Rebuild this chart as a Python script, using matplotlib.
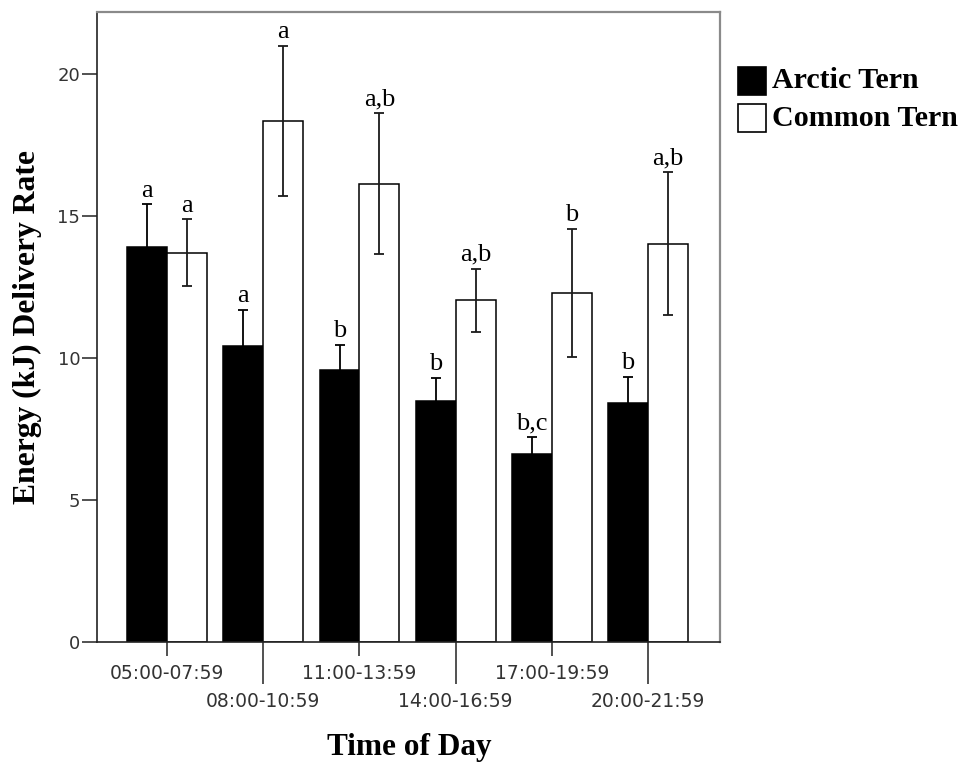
import matplotlib
matplotlib.use("Agg")
import matplotlib.pyplot as plt
from matplotlib.patches import Rectangle
import numpy as np

categories = ["05:00-07:59", "08:00-10:59", "11:00-13:59",
              "14:00-16:59", "17:00-19:59", "20:00-21:59"]
arctic = [13.92, 10.42, 9.58, 8.49, 6.61, 8.43]
arctic_err = [1.50, 1.27, 0.88, 0.83, 0.62, 0.91]
common = [13.71, 18.35, 16.15, 12.04, 12.30, 14.04]
common_err = [1.18, 2.65, 2.49, 1.12, 2.26, 2.53]
arctic_letters = ["a", "a", "b", "b", "b,c", "b"]
common_letters = ["a", "a", "a,b", "a,b", "b", "a,b"]
yticks = [0, 5, 10, 15, 20]

W, H = 971, 769
fig = plt.figure(figsize=(W / 100, H / 100), dpi=100)
ax = fig.add_axes([97 / W, 1 - 642 / H, (720 - 97) / W, (642 - 12) / H])

x = np.arange(len(categories))
bw = 0.415
ax.bar(x - bw / 2, arctic, bw, color="black", edgecolor="black", linewidth=1.1, zorder=2)
ax.bar(x + bw / 2, common, bw, color="white", edgecolor="black", linewidth=1.1, zorder=2)
ax.errorbar(x - bw / 2, arctic, yerr=arctic_err, fmt="none", ecolor="black",
            elinewidth=1.3, capsize=3.6, capthick=1.3, zorder=3)
ax.errorbar(x + bw / 2, common, yerr=common_err, fmt="none", ecolor="#1a1a1a",
            elinewidth=1.3, capsize=3.6, capthick=1.3, zorder=3)

for xi, v, e, t in zip(x - bw / 2, arctic, arctic_err, arctic_letters):
    ax.annotate(t, (xi, v + e), xytext=(0, 2), textcoords="offset points",
                ha="center", va="bottom", fontsize=19, family="Liberation Serif")
for xi, v, e, t in zip(x + bw / 2, common, common_err, common_letters):
    ax.annotate(t, (xi, v + e), xytext=(0, 2), textcoords="offset points",
                ha="center", va="bottom", fontsize=19, family="Liberation Serif")

ax.set_xlim(-0.73, 5.75)
ax.set_ylim(0, 22.2)

ax.set_yticks(yticks)
ax.set_yticklabels([str(v) for v in yticks])
ax.tick_params(axis="y", length=11, width=1.1, pad=1, labelsize=13,
               labelcolor="#333333", color="#222222")

even = x[::2]
odd = x[1::2]
ax.set_xticks(even)
ax.set_xticklabels([categories[i] for i in even])
ax.set_xticks(odd, minor=True)
ax.set_xticklabels([categories[i] for i in odd], minor=True)
ax.tick_params(axis="x", which="major", length=10, width=1.1, pad=6,
               labelsize=13.5, labelcolor="#333333", color="#222222")
ax.tick_params(axis="x", which="minor", length=30, width=1.1, pad=6,
               labelsize=13.5, labelcolor="#333333", color="#222222")
for lab in ax.get_xticklabels() + ax.get_xticklabels(minor=True) + ax.get_yticklabels():
    lab.set_family("DejaVu Sans")

for s in ["left", "bottom"]:
    ax.spines[s].set_color("#222222")
    ax.spines[s].set_linewidth(1.2)
for s in ["top", "right"]:
    ax.spines[s].set_color("#8a8a8a")
    ax.spines[s].set_linewidth(1.6)

fig.text(27 / W, 1 - 327 / H, "Energy (kJ) Delivery Rate", rotation=90,
         ha="center", va="center", fontsize=22.8, fontweight="bold",
         family="Liberation Serif")
fig.text(409 / W, 1 - 748 / H, "Time of Day", ha="center", va="center",
         fontsize=22.5, fontweight="bold", family="Liberation Serif")

# legend
leg_items = [("Arctic Tern", "black"), ("Common Tern", "white")]
for i, (name, col) in enumerate(leg_items):
    cy = 81 + i * 37
    fig.patches.append(Rectangle((738 / W, 1 - (cy + 14) / H), 28 / W, 28 / H,
                                 transform=fig.transFigure, facecolor=col,
                                 edgecolor="black", linewidth=1.2))
    fig.text(772 / W, 1 - cy / H, name, ha="left", va="center", fontsize=21.6,
             fontweight="bold", family="Liberation Serif")

fig.savefig("out.png", dpi=100)
